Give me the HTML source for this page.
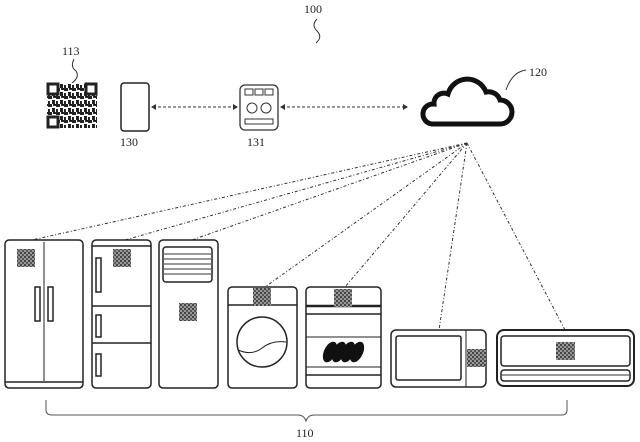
<!DOCTYPE html>
<html><head><style>body{margin:0;background:#fff}svg{display:block}text{font-family:"Liberation Serif",serif;font-size:12px;fill:#222}</style></head><body>
<svg width="640" height="442" viewBox="0 0 640 442" xmlns="http://www.w3.org/2000/svg">
<defs><pattern id="qr" width="4" height="4" patternUnits="userSpaceOnUse"><rect width="4" height="4" fill="#999"/><rect width="2" height="2" fill="#444"/><rect x="2" y="2" width="2" height="2" fill="#555"/></pattern>
<pattern id="qr2" width="8" height="8" patternUnits="userSpaceOnUse"><rect width="8" height="8" fill="#fff"/><rect width="4" height="3" fill="#222"/><rect x="4" y="4" width="3" height="4" fill="#222"/><rect x="5" y="0" width="3" height="2" fill="#222"/><rect x="0" y="5" width="2" height="3" fill="#222"/></pattern></defs>
<g stroke="#333" stroke-width="1" stroke-dasharray="3,2,1,2" fill="none">
<line x1="467" y1="143" x2="32" y2="240"/><line x1="467" y1="143" x2="125" y2="240"/><line x1="467" y1="143" x2="192" y2="240"/><line x1="467" y1="143" x2="265" y2="287"/><line x1="467" y1="143" x2="345" y2="287"/><line x1="467" y1="143" x2="439" y2="330"/><line x1="467" y1="143" x2="565" y2="330"/>
</g>
<g stroke="#333" stroke-width="1" stroke-dasharray="3,2" fill="none"><line x1="153" y1="107" x2="236" y2="107"/><line x1="282" y1="107" x2="406" y2="107"/></g>
<g fill="#333"><path d="M151 107 l5 -3 v6z"/><path d="M238 107 l-5 -3 v6z"/><path d="M280 107 l5 -3 v6z"/><path d="M408 107 l-5 -3 v6z"/></g>
<text x="304" y="13">100</text><path d="M317 19 q-6 6 0 12 q6 6 -1 12" stroke="#333" fill="none"/>
<text x="62" y="55">113</text><path d="M74 59 q-4 8 2 12 q4 6 -4 12" stroke="#333" fill="none"/>
<rect x="47" y="83" width="50" height="45" fill="url(#qr2)"/>
<rect x="48" y="84" width="10" height="10" fill="#fff" stroke="#222" stroke-width="3"/><rect x="86" y="84" width="10" height="10" fill="#fff" stroke="#222" stroke-width="3"/><rect x="48" y="117" width="10" height="10" fill="#fff" stroke="#222" stroke-width="3"/>
<rect x="121" y="83" width="28" height="48" rx="3" fill="none" stroke="#222" stroke-width="1.5"/><text x="120" y="146">130</text>
<rect x="240" y="85" width="38" height="45" rx="5" fill="none" stroke="#333" stroke-width="1.3"/>
<g fill="none" stroke="#333"><rect x="245" y="89" width="8" height="6"/><rect x="255" y="89" width="8" height="6"/><rect x="265" y="89" width="8" height="6"/><circle cx="252" cy="108" r="5"/><circle cx="266" cy="108" r="5"/><rect x="245" y="119" width="28" height="5"/></g>
<text x="247" y="146">131</text>
<path d="M432 124 h68 a12 12 0 0 0 0 -24 a12 12 0 0 0 -14 -8 a20 20 0 0 0 -38 2 a10 10 0 0 0 -14 10 a10 10 0 0 0 -2 20 z" fill="none" stroke="#111" stroke-width="5"/>
<text x="529" y="76">120</text><path d="M506 90 q6 -18 20 -20" stroke="#333" fill="none"/>
<g fill="#fff" stroke="#222" stroke-width="1.5">
<rect x="5" y="240" width="78" height="148" rx="4"/><line x1="5" y1="382" x2="83" y2="382"/><line x1="44" y1="242" x2="44" y2="381" stroke-width="1"/>
<rect x="35" y="287" width="5" height="34"/><rect x="48" y="287" width="5" height="34"/>
<rect x="92" y="240" width="59" height="148" rx="4"/><line x1="92" y1="246" x2="151" y2="246"/><line x1="92" y1="306" x2="151" y2="306"/><line x1="92" y1="343" x2="151" y2="343"/>
<rect x="96" y="258" width="5" height="34"/><rect x="96" y="315" width="5" height="22"/><rect x="96" y="354" width="5" height="22"/>
<rect x="159" y="240" width="59" height="148" rx="4"/><rect x="163" y="247" width="49" height="35" rx="3"/>
<rect x="228" y="287" width="69" height="101" rx="4"/><line x1="228" y1="305" x2="297" y2="305"/><circle cx="262" cy="342" r="25"/>
<path d="M238 350 q14 6 24 -2 t24 -6" fill="none" stroke-width="1"/>
<rect x="306" y="287" width="75" height="101" rx="4"/><line x1="306" y1="306" x2="381" y2="306" stroke-width="2.5"/><line x1="306" y1="314" x2="381" y2="314"/><line x1="306" y1="337" x2="381" y2="337" stroke-width="1"/><line x1="306" y1="367" x2="381" y2="367" stroke-width="1"/><line x1="306" y1="375" x2="381" y2="375"/>
<rect x="391" y="330" width="95" height="57" rx="5"/><rect x="396" y="336" width="65" height="44" rx="2"/><line x1="466" y1="330" x2="466" y2="387" stroke-width="1"/>
<rect x="497" y="330" width="137" height="56" rx="7" stroke-width="2"/><rect x="501" y="336" width="129" height="30" rx="3"/><rect x="501" y="370" width="129" height="11" rx="3"/>
</g>
<g stroke="#333" stroke-width="1"><line x1="164" y1="254" x2="211" y2="254"/><line x1="164" y1="259" x2="211" y2="259"/><line x1="164" y1="264" x2="211" y2="264"/><line x1="164" y1="269" x2="211" y2="269"/><line x1="164" y1="274" x2="211" y2="274"/><line x1="502" y1="375" x2="629" y2="375"/></g>
<g fill="#111"><ellipse cx="330" cy="352" rx="6" ry="11" transform="rotate(25 330 352)"/><ellipse cx="339" cy="352" rx="6" ry="11" transform="rotate(25 339 352)"/><ellipse cx="348" cy="352" rx="6" ry="11" transform="rotate(25 348 352)"/><ellipse cx="357" cy="352" rx="6" ry="11" transform="rotate(25 357 352)"/></g>
<g fill="url(#qr)"><rect x="17" y="249" width="18" height="18"/><rect x="113" y="249" width="18" height="18"/><rect x="179" y="303" width="18" height="18"/><rect x="253" y="288" width="18" height="18"/><rect x="334" y="289" width="18" height="18"/><rect x="467" y="349" width="19" height="18"/><rect x="556" y="342" width="19" height="18"/></g>
<path d="M46 400 v10 q0 5 6 5 h246 q6 0 8 6 q2 -6 8 -6 h248 q5 0 5 -5 v-10" fill="none" stroke="#555"/>
<text x="296" y="437">110</text>
</svg></body></html>
